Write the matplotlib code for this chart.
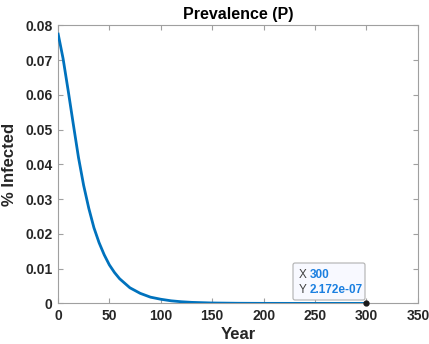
import matplotlib
matplotlib.use("Agg")
import matplotlib.pyplot as plt
from matplotlib.patches import FancyBboxPatch

plt.rcParams['font.family'] = ['Liberation Sans', 'DejaVu Sans']

year = [0, 5, 10, 15, 20, 25, 30, 35, 40, 45, 50, 55, 60, 70, 80, 90, 100,
        110, 120, 130, 150, 175, 200, 250, 300]
prevalence = [0.0779, 0.0705, 0.0612, 0.0515, 0.0420, 0.0340, 0.0274, 0.0218,
              0.0175, 0.0140, 0.0111, 0.0089, 0.0071, 0.0045, 0.0029, 0.0018,
              0.0012, 0.00075, 0.00048, 0.0003, 0.00012, 0.00004, 0.000013,
              0.0000014, 2.172e-7]

xticks = [0, 50, 100, 150, 200, 250, 300, 350]
yticks = [0, 0.01, 0.02, 0.03, 0.04, 0.05, 0.06, 0.07, 0.08]
yticklabels = ['0', '0.01', '0.02', '0.03', '0.04', '0.05', '0.06', '0.07', '0.08']
tip_x = 300
tip_y = 2.172e-7

W, H = 429, 344
fig = plt.figure(figsize=(W / 100, H / 100), dpi=100)
ax = fig.add_axes([0.135, 0.118, 0.839, 0.808])

ax.plot(year, prevalence, color='#0072BD', lw=2.0, solid_joinstyle='round',
        solid_capstyle='butt', zorder=3)
ax.plot([tip_x], [tip_y], 'o', color='#1a1a1a', ms=3.5, zorder=4, clip_on=False)

ax.set_xlim(0, 350)
ax.set_ylim(0, 0.08)
ax.set_xticks(xticks)
ax.set_xticklabels([str(t) for t in xticks])
ax.set_yticks(yticks)
ax.set_yticklabels(yticklabels)

for s in ax.spines.values():
    s.set_color('#a0a0a0')
    s.set_linewidth(0.8)
ax.tick_params(direction='in', length=3.5, width=0.8, color='#a0a0a0',
               top=True, right=True, labelsize=10, labelcolor='#262626', pad=4)
for lab in ax.get_xticklabels() + ax.get_yticklabels():
    lab.set_fontweight('bold')

ax.set_title('Prevalence (P)', fontsize=11.5, fontweight='bold', color='black', pad=5)
ax.set_xlabel('Year', fontsize=12, fontweight='bold', color='#262626', labelpad=3)
ax.set_ylabel('% Infected', fontsize=12, fontweight='bold', color='#262626', labelpad=6)

# data tip box (pixel coordinates, top-left origin converted)
box = FancyBboxPatch((293, H - 300), 72, 37, boxstyle='round,pad=0,rounding_size=2',
                     transform=None, facecolor='#f8f9ff', edgecolor='#b0b0b0',
                     lw=0.8, zorder=5)
fig.patches.append(box)
fig.text(299 / W, 1 - 275 / H, 'X', fontsize=8.5, color='#404040', va='center', zorder=6)
fig.text(310 / W, 1 - 275 / H, str(tip_x), fontsize=8.5, color='#1a7fe0',
         fontweight='bold', va='center', zorder=6)
fig.text(299 / W, 1 - 290 / H, 'Y', fontsize=8.5, color='#404040', va='center', zorder=6)
fig.text(310 / W, 1 - 290 / H, '%.3e' % tip_y, fontsize=8.5, color='#1a7fe0',
         fontweight='bold', va='center', zorder=6)

fig.savefig('out.png', dpi=100, facecolor='white')
